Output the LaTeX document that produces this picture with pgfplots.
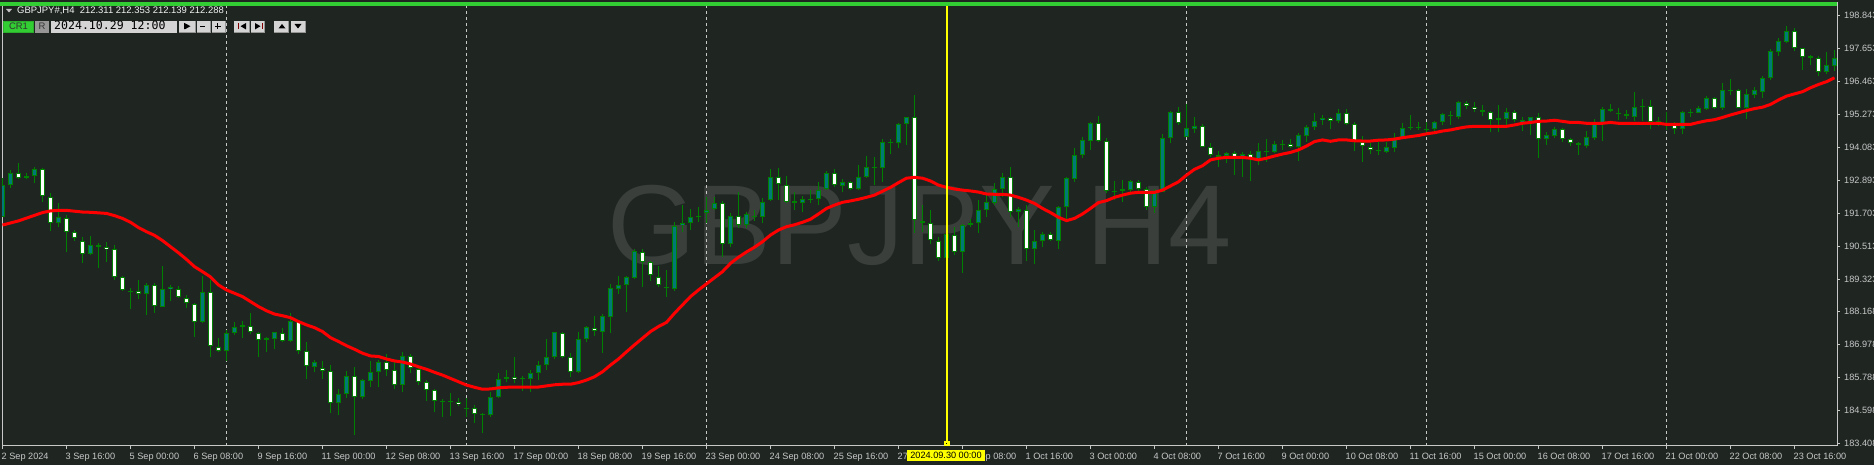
\documentclass[border=0pt]{standalone}
\usepackage{pgfplots}
\pgfplotsset{compat=1.18}
\usepackage{pgfplotstable}
\usepackage{fontspec}
\setmainfont{Liberation Sans}
\newfontfamily\monofont{DejaVu Sans Mono}

\definecolor{bg}{RGB}{31,38,34}
\definecolor{wick}{RGB}{0,128,0}
\definecolor{bull}{RGB}{0,122,118}
\definecolor{fg}{RGB}{200,200,200}
\definecolor{wm}{RGB}{58,63,60}
\definecolor{lime}{RGB}{50,205,50}
\definecolor{ylw}{RGB}{255,255,0}
\definecolor{btn}{RGB}{212,212,212}
\definecolor{btnd}{RGB}{150,150,150}

% GBPJPY H4 candles, k = bar index from the left edge (2 Sep 2024 08:00)
\pgfplotstableread{
k O H L C
0 191.57 192.96 191.55 192.71
1 192.71 193.26 192.59 193.16
2 193.16 193.50 192.92 192.96
3 192.96 193.16 192.94 193.04
4 193.04 193.35 192.77 193.28
5 193.28 193.31 192.11 192.32
6 192.29 192.41 191.07 191.36
7 191.33 192.05 191.19 191.55
8 191.54 191.63 190.31 191.02
9 191.01 191.09 190.71 190.79
10 190.71 190.83 189.91 190.23
11 190.23 190.88 190.20 190.54
12 190.49 190.61 189.71 190.54
13 190.49 190.66 189.95 190.40
14 190.40 190.54 189.29 189.41
15 189.41 189.43 188.90 188.93
16 188.86 188.99 188.23 188.89
17 188.90 189.29 188.62 188.77
18 188.77 189.17 188.04 189.10
19 189.10 189.17 188.11 188.35
20 188.33 189.79 188.30 188.95
21 188.95 189.10 188.54 189.04
22 188.95 189.07 188.63 188.68
23 188.65 188.74 188.27 188.46
24 188.44 188.47 187.25 187.76
25 187.76 189.43 187.73 188.87
26 188.87 189.29 186.50 186.91
27 186.89 187.19 186.71 186.73
28 186.72 187.49 186.37 187.37
29 187.37 187.79 187.31 187.58
30 187.58 187.82 187.19 187.65
31 187.64 188.11 187.33 187.40
32 187.39 187.43 186.52 187.13
33 187.14 187.22 186.71 187.17
34 187.15 187.43 186.79 187.40
35 187.39 187.55 187.07 187.10
36 187.10 188.09 187.04 187.80
37 187.80 187.85 186.62 186.72
38 186.72 187.04 185.71 186.19
39 186.16 186.40 185.98 186.33
40 186.10 186.37 185.71 186.01
41 186.00 186.23 184.51 184.84
42 184.84 185.35 184.42 185.17
43 185.17 186.01 185.02 185.84
44 185.84 186.14 183.70 185.06
45 185.06 185.73 185.01 185.68
46 185.65 186.37 185.42 185.96
47 185.96 186.40 185.42 186.32
48 186.32 186.61 185.84 186.04
49 186.04 186.33 185.35 185.50
50 185.50 186.71 185.26 186.56
51 186.56 186.61 185.92 186.13
52 186.08 186.14 185.50 185.60
53 185.60 185.68 184.94 185.32
54 185.31 185.35 184.54 184.93
55 184.88 184.99 184.36 184.91
56 184.91 185.20 184.40 184.88
57 184.90 185.03 184.75 184.81
58 184.64 185.02 184.36 184.66
59 184.66 184.78 184.14 184.45
60 184.41 184.51 183.76 184.46
61 184.42 185.26 184.36 185.08
62 185.06 185.92 185.02 185.73
63 185.73 186.04 185.62 185.80
64 185.80 186.50 185.56 185.71
65 185.71 185.83 185.30 185.74
66 185.73 186.04 185.26 185.92
67 185.92 186.37 185.68 186.21
68 186.21 187.15 186.04 186.50
69 186.50 187.43 186.43 187.40
70 187.39 187.43 186.46 186.52
71 186.52 186.67 185.80 185.96
72 185.96 187.40 185.92 187.15
73 187.15 187.63 187.07 187.58
74 187.57 187.99 187.27 187.45
75 187.43 188.06 186.67 187.99
76 187.94 189.13 187.39 188.99
77 188.98 189.43 188.78 189.10
78 189.12 189.43 188.15 189.39
79 189.36 190.42 189.31 190.35
80 190.31 190.41 189.05 189.95
81 189.95 189.99 189.26 189.47
82 189.41 189.79 189.05 189.11
83 189.05 189.65 188.69 189.00
84 188.98 191.39 188.90 191.25
85 191.26 191.99 191.03 191.36
86 191.36 191.84 191.09 191.57
87 191.55 191.91 191.39 191.58
88 191.69 192.29 191.33 191.81
89 191.84 192.29 191.81 192.08
90 192.08 192.15 190.13 190.59
91 190.59 191.69 190.49 191.61
92 191.61 192.45 191.15 191.27
93 191.27 191.75 191.15 191.66
94 191.61 191.81 191.43 191.55
95 191.57 192.23 191.33 192.11
96 192.17 193.29 192.15 193.01
97 193.01 193.31 192.17 192.75
98 192.73 193.04 192.05 192.11
99 192.11 192.47 191.81 192.08
100 192.05 192.32 191.75 192.20
101 192.17 192.53 192.08 192.21
102 192.21 192.84 191.99 192.53
103 192.56 193.23 192.53 193.16
104 193.16 193.28 192.65 192.73
105 192.69 192.92 192.47 192.84
106 192.81 192.87 192.53 192.57
107 192.57 193.44 192.53 193.01
108 193.01 193.76 192.96 193.35
109 193.35 193.71 192.71 193.32
110 193.32 194.36 192.83 194.25
111 194.23 194.36 193.83 194.26
112 194.22 194.96 194.06 194.90
113 194.90 195.18 194.16 195.16
114 195.16 195.96 191.00 191.45
115 191.43 191.99 191.03 191.36
116 191.33 191.81 190.59 190.73
117 190.71 190.83 189.99 190.07
118 190.07 191.03 190.01 190.95
119 190.92 191.21 190.19 190.29
120 190.29 191.31 189.55 191.26
121 191.26 191.48 191.21 191.33
122 191.33 192.17 191.00 191.81
123 191.81 192.35 191.55 192.09
124 192.05 192.78 191.99 192.56
125 192.56 193.16 192.29 193.02
126 193.02 193.35 191.57 191.73
127 191.73 191.91 191.21 191.85
128 191.81 191.99 189.99 190.41
129 190.39 191.09 189.85 190.71
130 190.68 191.03 190.47 190.95
131 190.94 191.03 190.71 190.73
132 190.71 191.96 190.39 191.91
133 191.91 193.02 191.45 192.96
134 192.94 194.04 192.83 193.78
135 193.78 194.43 193.68 194.33
136 194.29 194.98 193.98 194.94
137 194.94 195.20 194.28 194.31
138 194.31 194.40 192.41 192.50
139 192.45 192.87 192.17 192.50
140 192.49 192.90 192.11 192.56
141 192.54 192.90 192.48 192.86
142 192.81 192.90 192.50 192.56
143 192.56 192.63 191.81 191.93
144 191.93 192.56 191.72 192.49
145 192.48 194.55 192.45 194.40
146 194.40 195.38 194.22 195.34
147 195.34 195.52 194.88 194.94
148 194.46 195.64 194.43 194.76
149 194.75 195.16 194.58 194.84
150 194.83 194.91 194.07 194.10
151 194.10 194.22 193.74 193.78
152 193.71 193.95 193.35 193.78
153 193.76 193.92 193.50 193.86
154 193.86 193.95 193.08 193.74
155 193.74 193.92 193.02 193.83
156 193.83 193.93 192.87 193.68
157 193.65 194.22 193.44 193.94
158 193.94 194.36 193.56 193.90
159 193.92 194.30 193.86 194.18
160 194.18 194.34 193.98 194.15
161 194.18 194.36 194.04 194.09
162 194.10 194.60 193.58 194.52
163 194.48 194.88 194.28 194.79
164 194.79 195.30 194.70 195.02
165 195.05 195.24 194.88 195.13
166 195.12 195.18 194.72 195.02
167 195.01 195.44 194.94 195.31
168 195.30 195.44 194.88 194.91
169 194.91 194.98 193.94 194.31
170 194.25 194.48 193.56 194.12
171 194.10 194.22 193.82 193.97
172 193.94 194.28 193.80 193.98
173 193.92 194.28 193.86 194.07
174 194.06 194.58 193.89 194.42
175 194.42 194.94 194.40 194.76
176 194.76 195.24 194.70 194.80
177 194.78 194.97 194.70 194.82
178 194.73 195.00 194.52 194.69
179 194.73 195.02 194.66 194.97
180 194.97 195.30 194.88 195.26
181 195.24 195.38 194.88 195.20
182 195.18 195.74 195.10 195.70
183 195.68 195.74 195.45 195.56
184 195.54 195.72 195.33 195.44
185 195.43 195.60 195.22 195.35
186 195.33 195.38 194.64 195.05
187 195.05 195.60 194.64 195.12
188 195.10 195.50 194.88 195.33
189 195.33 195.41 195.00 195.05
190 194.97 195.17 194.66 195.05
191 194.94 195.18 194.52 195.16
192 195.16 195.30 193.70 194.37
193 194.36 194.64 194.16 194.52
194 194.49 194.82 194.40 194.73
195 194.72 194.78 194.28 194.36
196 194.36 194.42 194.13 194.22
197 194.22 194.28 193.80 194.16
198 194.13 194.66 194.04 194.43
199 194.42 195.10 194.34 194.92
200 194.90 195.54 194.30 195.46
201 195.40 195.62 195.33 195.44
202 195.30 195.50 195.06 195.26
203 195.26 195.42 195.10 195.20
204 195.18 196.06 195.02 195.52
205 195.53 195.82 195.02 195.56
206 195.55 195.78 194.73 194.97
207 194.95 195.16 194.85 195.02
208 194.94 195.33 194.70 194.90
209 194.88 194.97 194.54 194.72
210 194.72 195.38 194.55 195.33
211 195.30 195.45 195.16 195.33
212 195.32 195.58 195.30 195.48
213 195.45 195.92 195.42 195.84
214 195.84 195.90 195.45 195.50
215 195.50 196.38 195.42 196.14
216 196.14 196.54 195.96 196.10
217 196.13 196.18 195.48 195.50
218 195.50 196.18 195.10 195.99
219 195.96 196.26 195.84 196.14
220 196.08 196.65 195.86 196.59
221 196.56 197.61 196.50 197.55
222 197.52 198.00 197.38 197.91
223 197.88 198.45 197.85 198.27
224 198.27 198.36 197.55 197.64
225 197.64 197.67 196.86 197.34
226 197.35 197.40 197.04 197.28
227 197.28 197.38 196.65 196.80
228 196.80 197.52 196.71 197.04
229 197.02 197.58 196.83 197.28
}\candles

% moving average (red)
\pgfplotstableread{
k m
0 191.27
2 191.42
4 191.62
5 191.72
6 191.78
7 191.80
8 191.80
9 191.77
10 191.74
11 191.73
12 191.71
13 191.69
14 191.61
15 191.51
16 191.37
17 191.18
18 191.03
19 190.90
20 190.71
21 190.49
22 190.27
23 190.03
24 189.77
25 189.59
26 189.40
27 189.11
28 188.93
29 188.81
30 188.69
31 188.51
32 188.33
33 188.18
34 188.06
35 188.00
36 187.93
37 187.79
38 187.67
39 187.57
40 187.43
41 187.21
42 187.07
43 186.92
44 186.79
45 186.65
46 186.55
47 186.53
48 186.44
49 186.37
50 186.33
51 186.26
52 186.16
53 186.07
54 185.96
55 185.86
56 185.74
57 185.62
58 185.50
59 185.42
60 185.35
61 185.36
62 185.40
63 185.42
64 185.43
65 185.43
66 185.43
67 185.43
68 185.47
69 185.51
70 185.53
71 185.53
72 185.59
73 185.68
74 185.80
75 185.98
76 186.22
77 186.44
78 186.70
79 186.95
80 187.19
81 187.43
82 187.61
83 187.76
84 188.09
85 188.39
86 188.69
87 188.93
88 189.15
89 189.37
90 189.59
91 189.89
92 190.11
93 190.30
94 190.47
95 190.67
96 190.91
97 191.09
98 191.21
99 191.28
100 191.37
101 191.48
102 191.67
103 191.87
104 191.99
105 192.09
106 192.14
107 192.20
108 192.27
109 192.35
110 192.49
111 192.63
112 192.80
113 192.96
114 192.99
115 192.96
116 192.86
117 192.71
118 192.63
119 192.57
120 192.53
121 192.50
122 192.46
123 192.39
124 192.38
125 192.38
126 192.35
127 192.27
128 192.17
129 192.05
130 191.87
131 191.72
132 191.55
133 191.43
134 191.51
135 191.67
136 191.87
137 192.08
138 192.15
139 192.27
140 192.35
141 192.42
142 192.45
143 192.45
144 192.45
145 192.53
146 192.68
147 192.83
148 193.07
149 193.28
150 193.41
151 193.62
152 193.68
153 193.71
154 193.71
155 193.71
156 193.68
157 193.62
158 193.68
159 193.76
160 193.83
161 193.89
162 193.98
163 194.12
164 194.28
165 194.34
166 194.29
167 194.34
168 194.34
169 194.31
170 194.30
171 194.30
172 194.33
173 194.34
174 194.37
175 194.42
176 194.46
177 194.50
178 194.56
179 194.60
180 194.66
181 194.70
182 194.76
183 194.81
184 194.83
185 194.83
186 194.83
187 194.83
188 194.83
189 194.88
190 194.94
191 194.97
192 195.01
193 195.02
194 195.05
195 195.01
196 194.97
197 194.97
198 194.94
199 194.94
200 194.94
201 194.97
202 194.94
203 194.94
204 194.94
205 194.94
206 194.94
207 194.94
208 194.90
209 194.90
210 194.90
211 194.90
212 194.97
213 195.03
214 195.07
215 195.15
216 195.24
217 195.32
218 195.40
219 195.47
220 195.52
221 195.62
222 195.78
223 195.92
224 196.00
225 196.08
226 196.22
227 196.34
228 196.44
229 196.58
}\ma

\begin{document}
\begin{tikzpicture}[x=1bp,y=1bp]
\fill[bg] (0,0) rectangle (1874,465);
% watermark
\node[anchor=base west, inner sep=0pt, text=wm, font=\fontsize{114}{114}\selectfont] at (607,200) {GBPJPY H4};

\begin{axis}[
    at={(2bp,19bp)}, anchor=south west,
    scale only axis,
    width=1835bp, height=443bp,
    xmin=-0.0625, xmax=229.3125,
    ymin=183.303, ymax=199.278,
    axis line style={draw=fg, line width=1bp},
    tick style={draw=fg, line width=1bp},
    major tick length=3bp,
    tick align=outside,
    xtick pos=left, ytick pos=right,
    yticklabel pos=right,
    xtick={0,8,...,224},
    xticklabels={2 Sep 2024, 3 Sep 16:00, 5 Sep 00:00, 6 Sep 08:00, 9 Sep 16:00, 11 Sep 00:00, 12 Sep 08:00, 13 Sep 16:00, 17 Sep 00:00, 18 Sep 08:00, 19 Sep 16:00, 23 Sep 00:00, 24 Sep 08:00, 25 Sep 16:00, 27 Sep 00:00, 30 Sep 08:00, 1 Oct 16:00, 3 Oct 00:00, 4 Oct 08:00, 7 Oct 16:00, 9 Oct 00:00, 10 Oct 08:00, 11 Oct 16:00, 15 Oct 00:00, 16 Oct 08:00, 17 Oct 16:00, 21 Oct 00:00, 22 Oct 08:00, 23 Oct 16:00},
    ytick={183.408,184.598,185.788,186.978,188.168,189.323,190.513,191.703,192.893,194.083,195.273,196.463,197.653,198.843},
    yticklabels={183.408,184.598,185.788,186.978,188.168,189.323,190.513,191.703,192.893,194.083,195.273,196.463,197.653,198.843},
    tick label style={font=\fontsize{9.2}{11}\selectfont, color=fg, inner sep=0pt},
    xticklabel style={anchor=north west, xshift=-1bp, yshift=-3.5bp},
    yticklabel style={anchor=west, xshift=4bp},
    extra x ticks={28,58,88,148,178,208},
    extra x tick labels={},
    extra x tick style={grid=major, tick style={draw=none}},
    major grid style={draw=fg, line width=1bp, dash pattern=on 3bp off 3bp},
]
% wicks
\addplot[draw=wick, line width=1bp, mark=none,
    quiver={u=0, v=\thisrow{H}-\thisrow{L}}] table[x=k, y=L] {\candles};
% body outlines
\addplot[draw=wick, line width=5bp, mark=none,
    quiver={u=0, v={max(abs(\thisrow{C}-\thisrow{O}),0.04)}}]
    table[x=k, y expr={min(\thisrow{O},\thisrow{C})}] {\candles};
% bull bodies
\addplot[draw=bull, line width=3bp, mark=none,
    restrict expr to domain={\thisrow{C}-\thisrow{O}}{0.08:100},
    quiver={u=0, v=\thisrow{C}-\thisrow{O}-0.072}]
    table[x=k, y expr={\thisrow{O}+0.036}] {\candles};
% bear bodies
\addplot[draw=white, line width=3bp, mark=none,
    restrict expr to domain={\thisrow{O}-\thisrow{C}}{0.08:100},
    quiver={u=0, v=\thisrow{O}-\thisrow{C}-0.072}]
    table[x=k, y expr={\thisrow{C}+0.036}] {\candles};
% moving average
\addplot[draw=red, line width=3bp, mark=none] table[x=k, y=m] {\ma};
% cursor line at 30 Sep 00:00
\addplot[draw=ylw, line width=2bp, mark=none] coordinates {(118,183.2) (118,199.4)};
\end{axis}

% top green bar
\fill[lime] (0,458.5) rectangle (1837,462.5);
% cursor marker and date box
\fill[ylw] (943.5,18.5) rectangle (949.5,24);
\fill[black] (945.8,20.5) rectangle (947.2,22);
\fill[ylw] (907,4) rectangle (985,15);
\node[inner sep=0pt, font=\fontsize{9.2}{11}\selectfont, text=black] at (946,9.5) {2024.09.30 00:00};

% info line
\fill[fg!110] (6,456) -- (12,456) -- (9,452.5) -- cycle;
\node[anchor=base west, inner sep=0pt, font=\fontsize{9.5}{11}\selectfont, text=white!90!gray] at (17,451)
    {GBPJPY\#,H4\ \ 212.311 212.353 212.139 212.288};
% control row
\fill[lime!85!black] (3,432.3) rectangle (34,444.3);
\fill[lime] (4,433.3) rectangle (33,443.3);
\node[inner sep=0pt, font=\fontsize{9.5}{11}\selectfont, text=black!80] at (18.5,438.3) {CR1};
\fill[btnd] (35,432.3) rectangle (49,444.3);
\node[inner sep=0pt, font=\fontsize{9.5}{11}\selectfont, text=black!80] at (42,438.3) {R};
\fill[btn] (51,432.3) rectangle (177,444.3);
\node[anchor=base west, inner sep=0pt, font=\monofont\fontsize{11.6}{12}\selectfont, text=black] at (54,435) {2024.10.29 12:00};
\foreach \a/\b in {179/196,197/211,212/226,234/250,251/265,274/289,291/306}{
  \fill[btnd] (\a,432.3) rectangle (\b,444.3);
  \fill[btn] (\a,433.3) rectangle (\b-1,444.3);
}
\fill[black] (184.5,442) -- (184.5,435.5) -- (190.5,438.8) -- cycle;
\fill[black] (184,435.5) rectangle (185.3,442);
\fill[black] (200,438.2) rectangle (205,439.4);
\fill[black] (214.5,438.2) rectangle (220.5,439.4);
\fill[black] (216.9,435.8) rectangle (218.1,441.8);
\fill[red!50!black] (238,435.5) rectangle (239.3,442);
\fill[black] (246,442) -- (246,435.5) -- (240.5,438.8) -- cycle;
\fill[black] (255,442) -- (255,435.5) -- (260.5,438.8) -- cycle;
\fill[red!50!black] (261.5,435.5) rectangle (262.8,442);
\fill[black] (278.5,436.5) -- (285.5,436.5) -- (282,441) -- cycle;
\fill[black] (294.5,441) -- (301.5,441) -- (298,436.5) -- cycle;

% fix the page to the chart window
\pgfresetboundingbox
\path[use as bounding box] (0,0) rectangle (1874,465);
\end{tikzpicture}
\end{document}
